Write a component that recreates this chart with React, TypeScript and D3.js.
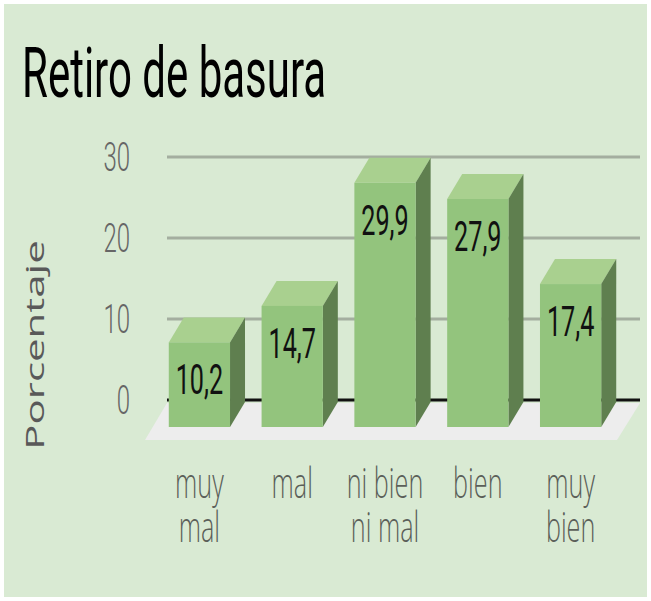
import React from 'react';
import * as d3 from 'd3';

const categories = ['muy mal', 'mal', 'ni bien ni mal', 'bien', 'muy bien'];
const categoryLines = [['muy', 'mal'], ['mal'], ['ni bien', 'ni mal'], ['bien'], ['muy', 'bien']];
const values = [10.2, 14.7, 29.9, 27.9, 17.4];
const valueLabels = ['10,2', '14,7', '29,9', '27,9', '17,4'];
const yTicks = [0, 10, 20, 30];

const W = 651;
const H = 601;
const SQ = 0.6; // horizontal squeeze of all text
const DX = 15; // 3d depth
const DY = 25;

const App: React.FC = () => {
  const x = d3.scaleBand<string>().domain(categories).range([168, 632]).paddingInner(0.34).paddingOuter(0.17);
  const y = d3.scaleLinear().domain([0, 30]).range([400, 157]);
  const bw = x.bandwidth();
  const gridLeft = 167;
  const gridRight = 640;
  const y0 = y(0);

  // floor parallelogram
  const floor = d3.path();
  floor.moveTo(gridLeft, y0 + 3);
  floor.lineTo(gridRight, y0 + 3);
  floor.lineTo(gridRight - 23, y0 + 40);
  floor.lineTo(gridLeft - 22, y0 + 40);
  floor.closePath();

  return (
    <div style={{ position: 'absolute', left: 0, top: 0 }}>
      <svg width={W} height={H} viewBox={`0 0 ${W} ${H}`} style={{ display: 'block' }}>
        <rect x={0} y={0} width={W} height={H} fill="#ffffff" />
        <rect x={4} y={4} width={643} height={593} fill="#d9ead3" />

        <text transform={`translate(22,97) scale(${SQ},1)`} fontFamily="Roboto" fontSize={70} fill="#000">
          Retiro de basura
        </text>

        <path d={floor.toString()} fill="#ededed" />

        {yTicks.map(t => (
          <g key={t}>
            {t !== 0 && (
              <line x1={gridLeft} x2={gridRight} y1={y(t)} y2={y(t)} stroke="#a4ae9f" strokeWidth={3} />
            )}
            <text
              transform={`translate(130,${y(t) + 14}) scale(${SQ},1)`}
              textAnchor="end"
              fontFamily="Roboto"
              fontWeight={300}
              fontSize={40}
              fill="#666666"
            >
              {t}
            </text>
          </g>
        ))}
        <line x1={gridLeft} x2={gridRight} y1={y0} y2={y0} stroke="#111111" strokeWidth={3} />

        <text
          transform={`translate(44,345) scale(${SQ},1) rotate(-90)`}
          textAnchor="middle"
          fontFamily="Open Sans"
          fontSize={42}
          fill="#595959"
        >
          Porcentaje
        </text>

        {categories.map((c, i) => {
          const bx = (x(c) as number) - DX; // front face left
          const top = y(values[i]) + DY; // front face top
          const bottom = y0 + DY + 2;
          const topFace = `M${bx},${top} L${bx + DX},${top - DY} L${bx + bw + DX},${top - DY} L${bx + bw},${top} Z`;
          const sideFace = `M${bx + bw},${top} L${bx + bw + DX},${top - DY} L${bx + bw + DX},${bottom - DY} L${bx + bw},${bottom} Z`;
          const cx = bx + bw / 2;
          return (
            <g key={c}>
              <path d={topFace} fill="#a9d08f" />
              <path d={sideFace} fill="#5f7f4f" />
              <rect x={bx} y={top} width={bw} height={bottom - top} fill="#93c47d" />
              <text
                transform={`translate(${cx},${top + 52}) scale(${SQ},1)`}
                textAnchor="middle"
                fontFamily="Roboto"
                fontSize={42}
                fill="#111111"
              >
                {valueLabels[i]}
              </text>
              <text
                transform={`translate(${cx},498) scale(${SQ},1)`}
                textAnchor="middle"
                fontFamily="Open Sans"
                fontWeight={300}
                fontSize={42}
                fill="#5b5f59"
              >
                {categoryLines[i].map((ln, j) => (
                  <tspan key={j} x={0} y={j * 44}>
                    {ln}
                  </tspan>
                ))}
              </text>
            </g>
          );
        })}
      </svg>
    </div>
  );
};

export default App;
